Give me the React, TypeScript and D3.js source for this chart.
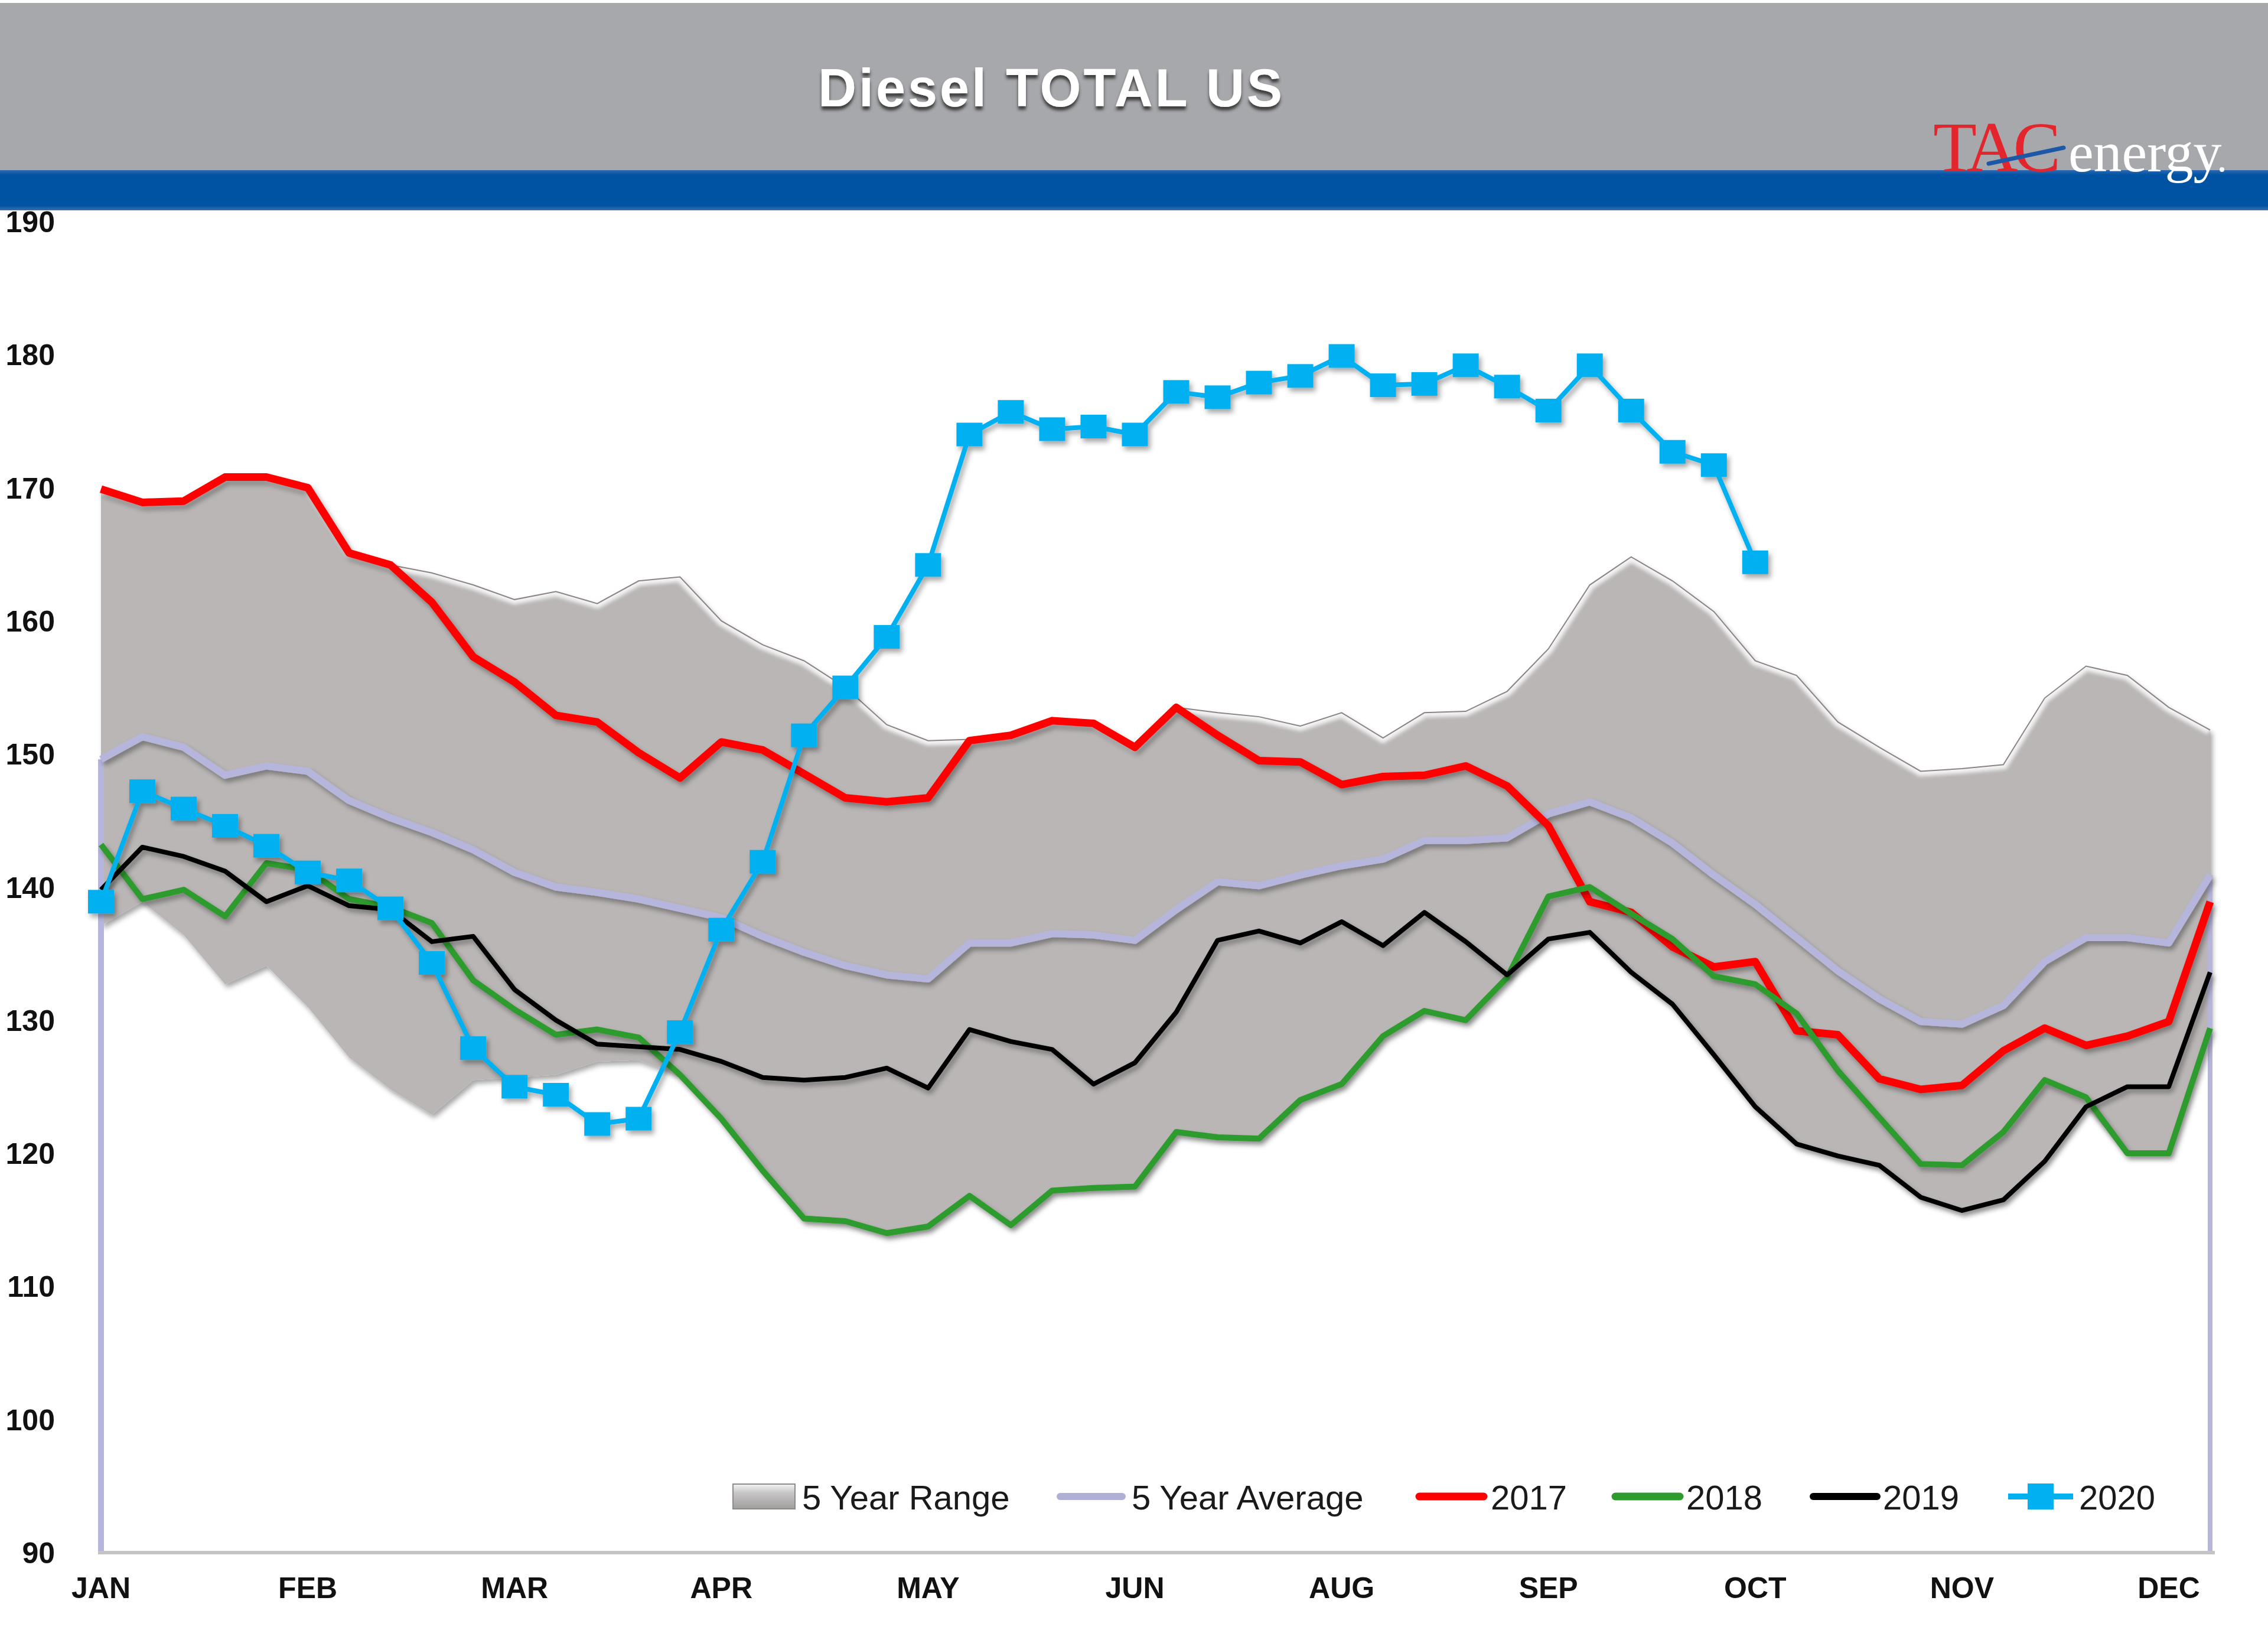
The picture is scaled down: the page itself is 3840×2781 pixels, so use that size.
import React from "react";
import * as d3 from "d3";

const weeks: number[] = Array.from({ length: 52 }, (_, i) => i + 1);
const monthTicks: { week: number; label: string }[] = [
  { week: 1, label: "JAN" }, { week: 6, label: "FEB" }, { week: 11, label: "MAR" },
  { week: 16, label: "APR" }, { week: 21, label: "MAY" }, { week: 26, label: "JUN" },
  { week: 31, label: "AUG" }, { week: 36, label: "SEP" }, { week: 41, label: "OCT" },
  { week: 46, label: "NOV" }, { week: 51, label: "DEC" },
];
const yTicks: number[] = [90, 100, 110, 120, 130, 140, 150, 160, 170, 180, 190];

const rangeHigh: number[] = [
  169.9, 168.9, 169.0, 170.8, 170.8, 170.0, 165.1, 164.2, 163.6, 162.7, 161.6, 162.2, 161.3,
  163.0, 163.3, 160.0, 158.2, 157.0, 155.0, 152.2, 151.0, 151.1, 151.4, 152.5, 152.3, 150.5,
  153.5, 153.1, 152.8, 152.1, 153.1, 151.2, 153.1, 153.2, 154.7, 157.9, 162.7, 164.8, 163.0,
  160.7, 157.0, 155.9, 152.4, 150.5, 148.7, 148.9, 149.2, 154.2, 156.6, 155.9, 153.5, 151.8,
];
const rangeLow: number[] = [
  137.1, 138.9, 136.4, 132.7, 134.1, 131.0, 127.2, 124.8, 122.9, 125.5, 125.7, 125.9, 126.9,
  127.0, 125.9, 122.6, 118.7, 115.1, 114.9, 114.0, 114.5, 116.8, 114.6, 117.2, 117.4, 117.5,
  121.6, 121.2, 121.1, 124.0, 125.2, 128.8, 130.7, 130.0, 133.2, 136.1, 136.6, 133.6, 131.2,
  127.4, 123.5, 120.7, 119.8, 119.1, 116.7, 115.7, 116.5, 119.4, 123.5, 120.0, 120.0, 129.4,
];
const avg5: number[] = [
  149.6, 151.3, 150.5, 148.4, 149.1, 148.7, 146.5, 145.2, 144.1, 142.8, 141.1, 140.0, 139.6,
  139.1, 138.4, 137.7, 136.3, 135.1, 134.1, 133.4, 133.1, 135.8, 135.8, 136.5, 136.4, 136.0,
  138.3, 140.4, 140.1, 140.9, 141.6, 142.1, 143.5, 143.5, 143.7, 145.5, 146.4, 145.2, 143.3,
  140.9, 138.7, 136.2, 133.7, 131.6, 129.9, 129.7, 131.1, 134.4, 136.2, 136.2, 135.8, 140.9,
];
const y2017: number[] = [
  169.9, 168.9, 169.0, 170.8, 170.8, 170.0, 165.1, 164.2, 161.4, 157.3, 155.4, 152.9, 152.4,
  150.1, 148.2, 150.9, 150.3, 148.5, 146.7, 146.4, 146.7, 151.0, 151.4, 152.5, 152.3, 150.5,
  153.5, 151.4, 149.5, 149.4, 147.7, 148.3, 148.4, 149.1, 147.6, 144.6, 138.9, 138.1, 135.5,
  134.0, 134.4, 129.2, 128.9, 125.6, 124.8, 125.1, 127.7, 129.4, 128.1, 128.8, 129.9, 138.9,
];
const y2018: number[] = [
  143.2, 139.1, 139.8, 137.8, 141.8, 141.3, 139.1, 138.5, 137.3, 133.0, 130.8, 128.9, 129.3,
  128.7, 125.9, 122.6, 118.7, 115.1, 114.9, 114.0, 114.5, 116.8, 114.6, 117.2, 117.4, 117.5,
  121.6, 121.2, 121.1, 124.0, 125.2, 128.8, 130.7, 130.0, 133.2, 139.3, 140.0, 138.0, 136.1,
  133.3, 132.7, 130.5, 126.2, 122.7, 119.2, 119.1, 121.6, 125.5, 124.2, 120.0, 120.0, 129.4,
];
const y2019: number[] = [
  139.8, 143.0, 142.3, 141.2, 138.9, 140.1, 138.6, 138.3, 135.9, 136.3, 132.3, 130.0, 128.2,
  128.0, 127.8, 126.9, 125.7, 125.5, 125.7, 126.4, 124.9, 129.3, 128.4, 127.8, 125.2, 126.8,
  130.6, 136.0, 136.7, 135.8, 137.4, 135.6, 138.1, 135.9, 133.4, 136.1, 136.6, 133.6, 131.2,
  127.4, 123.5, 120.7, 119.8, 119.1, 116.7, 115.7, 116.5, 119.4, 123.5, 125.0, 125.0, 133.6,
];
const y2020: number[] = [
  138.9, 147.2, 145.9, 144.6, 143.1, 141.1, 140.5, 138.4, 134.3, 127.9, 125.0, 124.4, 122.2,
  122.6, 129.1, 136.8, 141.9, 151.4, 155.0, 158.8, 164.2, 174.0, 175.7, 174.4, 174.6, 174.0,
  177.2, 176.8, 177.9, 178.4, 179.9, 177.7, 177.8, 179.2, 177.6, 175.8, 179.2, 175.8, 172.7,
  171.7, 164.4,
];

const FONT = "'Liberation Sans', Arial, sans-serif";
const SERIF = "'Liberation Serif', 'Times New Roman', serif";

export default function App() {
  const W = 3840;
  const H = 2781;
  const x = d3.scalePoint<number>().domain(weeks).range([171, 3742]);
  const y = d3.scaleLinear().domain([90, 190]).range([2628, 375]);

  const areaGen = d3
    .area<number>()
    .x((_, i) => x(weeks[i]) as number)
    .y0((_, i) => y(rangeLow[i]))
    .y1((d) => y(d));
  const lineGen = d3
    .line<number>()
    .x((_, i) => x(weeks[i]) as number)
    .y((d) => y(d));

  const areaPath = areaGen(rangeHigh) || "";
  const topPath = lineGen(rangeHigh) || "";

  const series = [
    { data: avg5, color: "#b6b6dc", width: 12 },
    { data: y2017, color: "#ff0000", width: 13 },
    { data: y2018, color: "#2d9b2d", width: 10 },
    { data: y2019, color: "#000000", width: 8 },
  ];

  const x0 = x(weeks[0]) as number;
  const xN = x(weeks[weeks.length - 1]) as number;

  const legendY = 2533;
  const legendTextY = 2555;

  return (
    <svg
      width={W}
      height={H}
      viewBox={`0 0 ${W} ${H}`}
      style={{ position: "absolute", left: 0, top: 0, display: "block" }}
    >
      <defs>
        <filter id="shadow" x="-5%" y="-5%" width="110%" height="120%">
          <feDropShadow dx="4" dy="6" stdDeviation="4" floodColor="#000" floodOpacity="0.35" />
        </filter>
        <filter id="titleShadow" x="-5%" y="-20%" width="110%" height="160%">
          <feDropShadow dx="0" dy="6" stdDeviation="2.5" floodColor="#2a2a2a" floodOpacity="0.85" />
        </filter>
        <filter id="blur3">
          <feGaussianBlur stdDeviation="3" />
        </filter>
        <clipPath id="areaClip">
          <path d={areaPath} />
        </clipPath>
        <linearGradient id="legGrad" x1="0" y1="0" x2="0" y2="1">
          <stop offset="0" stopColor="#f4f4f4" />
          <stop offset="0.35" stopColor="#c8c6c6" />
          <stop offset="1" stopColor="#a09d9d" />
        </linearGradient>
        <linearGradient id="blueBand" x1="0" y1="0" x2="0" y2="1">
          <stop offset="0" stopColor="#2f6ab0" />
          <stop offset="0.12" stopColor="#0052a2" />
          <stop offset="0.88" stopColor="#0052a2" />
          <stop offset="1" stopColor="#3a70b0" />
        </linearGradient>
      </defs>

      <rect x={0} y={0} width={W} height={H} fill="#ffffff" />

      {/* 5 year range */}
      <g filter="url(#shadow)">
        <path d={areaPath} fill="#bab6b6" />
      </g>
      <g clipPath="url(#areaClip)">
        <path d={topPath} fill="none" stroke="#ffffff" strokeWidth={16} opacity={0.85} filter="url(#blur3)" />
      </g>
      <path d={topPath} fill="none" stroke="#8c8484" strokeWidth={2} />

      {/* edge verticals */}
      <line x1={x0} x2={x0} y1={y(avg5[0])} y2={y(90)} stroke="#b6b6dc" strokeWidth={10} />
      <line x1={xN} x2={xN} y1={y(avg5[avg5.length - 1])} y2={y(90)} stroke="#b6b6dc" strokeWidth={8} />

      {/* x axis line */}
      <line x1={166} x2={3750} y1={y(90)} y2={y(90)} stroke="#c4c4c4" strokeWidth={6} />

      {/* series lines */}
      {series.map((s, k) => (
        <path
          key={k}
          d={lineGen(s.data) || ""}
          fill="none"
          stroke={s.color}
          strokeWidth={s.width}
          strokeLinejoin="round"
          filter="url(#shadow)"
        />
      ))}
      <g filter="url(#shadow)">
        <path
          d={lineGen(y2020) || ""}
          fill="none"
          stroke="#00b0f0"
          strokeWidth={8}
          strokeLinejoin="round"
        />
        {y2020.map((v, i) => (
          <rect
            key={i}
            x={(x(weeks[i]) as number) - 22}
            y={y(v) - 20}
            width={44}
            height={40}
            fill="#00b0f0"
          />
        ))}
      </g>

      {/* y labels */}
      {yTicks.map((t) => (
        <text
          key={t}
          x={93}
          y={y(t)}
          dy="0.36em"
          textAnchor="end"
          fontFamily={FONT}
          fontWeight="bold"
          fontSize={50}
          fill="#111"
        >
          {t}
        </text>
      ))}

      {/* x labels */}
      {monthTicks.map((m) => (
        <text
          key={m.label}
          x={x(m.week) as number}
          y={2705}
          textAnchor="middle"
          fontFamily={FONT}
          fontWeight="bold"
          fontSize={50}
          fill="#111"
        >
          {m.label}
        </text>
      ))}

      {/* header */}
      <rect x={0} y={5} width={W} height={285} fill="#a7a8ac" />
      <rect x={0} y={288} width={W} height={68} fill="url(#blueBand)" />
      <text
        x={1780}
        y={180}
        textAnchor="middle"
        fontFamily={FONT}
        fontWeight="bold"
        fontSize={90}
        letterSpacing={4}
        fill="#ffffff"
        filter="url(#titleShadow)"
      >
        Diesel TOTAL US
      </text>

      {/* logo */}
      <text x={3273} y={290} fontFamily={SERIF} fontSize={121} letterSpacing={-8} fill="#e3262d">
        TAC
      </text>
      <line x1={3367} y1={277} x2={3494} y2={250} stroke="#1d58a8" strokeWidth={7} strokeLinecap="round" />
      <text x={3502} y={290} fontFamily={SERIF} fontSize={96} fill="#ffffff">
        energy
      </text>
      <circle cx={3762} cy={287} r={4} fill="#ffffff" />

      {/* legend */}
      <rect x={1241} y={2512} width={105} height={42} fill="url(#legGrad)" stroke="#8e8a8a" strokeWidth={2} />
      <text x={1358} y={legendTextY} fontFamily={FONT} fontSize={58} fill="#1a1a1a">
        5 Year Range
      </text>
      <line x1={1795} x2={1900} y1={legendY} y2={legendY} stroke="#b0b0d6" strokeWidth={12} strokeLinecap="round" />
      <text x={1916} y={legendTextY} fontFamily={FONT} fontSize={58} fill="#1a1a1a">
        5 Year Average
      </text>
      <line x1={2403} x2={2512} y1={legendY} y2={legendY} stroke="#ff0000" strokeWidth={13} strokeLinecap="round" />
      <text x={2524} y={legendTextY} fontFamily={FONT} fontSize={58} fill="#1a1a1a">
        2017
      </text>
      <line x1={2735} x2={2844} y1={legendY} y2={legendY} stroke="#2d9b2d" strokeWidth={13} strokeLinecap="round" />
      <text x={2855} y={legendTextY} fontFamily={FONT} fontSize={58} fill="#1a1a1a">
        2018
      </text>
      <line x1={3070} x2={3178} y1={legendY} y2={legendY} stroke="#000000" strokeWidth={12} strokeLinecap="round" />
      <text x={3188} y={legendTextY} fontFamily={FONT} fontSize={58} fill="#1a1a1a">
        2019
      </text>
      <line x1={3400} x2={3510} y1={legendY} y2={legendY} stroke="#00b0f0" strokeWidth={10} />
      <rect x={3433} y={legendY - 22} width={44} height={44} fill="#00b0f0" />
      <text x={3520} y={legendTextY} fontFamily={FONT} fontSize={58} fill="#1a1a1a">
        2020
      </text>
    </svg>
  );
}
